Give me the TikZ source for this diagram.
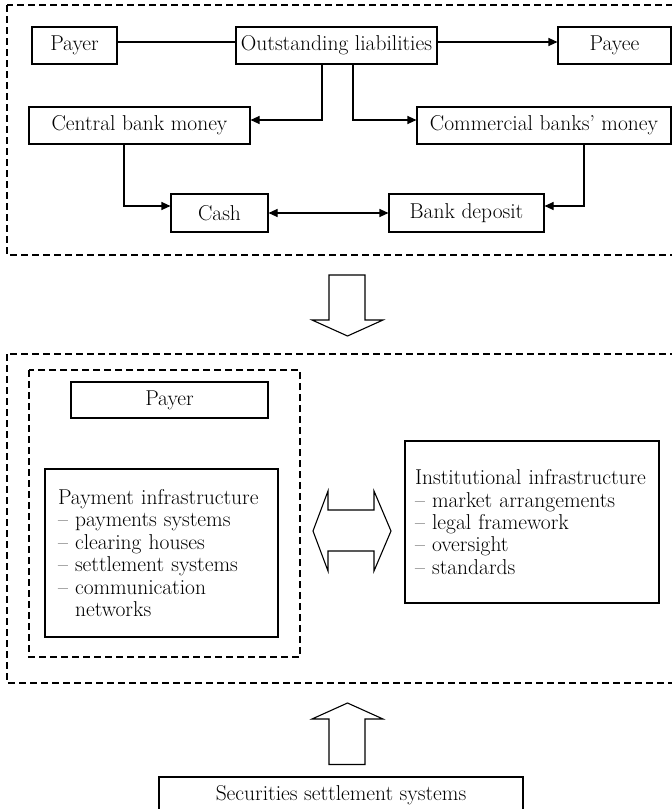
\documentclass[tikz,border=0pt]{standalone}
\usetikzlibrary{arrows.meta,calc}
\begin{document}
\begin{tikzpicture}[x=1pt,y=-1pt,
  every node/.style={font=\fontsize{21.5}{22.4}\selectfont},
  box/.style={draw, line width=1.1pt, inner sep=0pt, minimum height=37pt},
  dbox/.style={draw, line width=1.1pt, dash pattern=on 7pt off 4pt},
  con/.style={line width=1.1pt},
  arr/.style={con,-{Triangle[length=9pt,width=8pt]}},
  darr/.style={con,{Triangle[length=9pt,width=8pt]}-{Triangle[length=9pt,width=8pt]}},
  blk/.style={draw, line width=1.1pt, fill=white, line join=miter},
  listbox/.style={draw, line width=1.1pt, inner ysep=0pt, align=left}]
\clip (0,0) rectangle (672,809);
\fill[white] (0,0) rectangle (672,809);

% ---------- top panel ----------
\draw[dbox] (7,5) rectangle (672.8,255);
\node[box, minimum width=85pt]  (payer) at (74.5,45.5) {Payer};
\node[box, minimum width=201pt] (ol)    at (336.5,45.5) {Outstanding liabilities};
\node[box, minimum width=113pt] (payee) at (614.5,45.5) {Payee};
\node[box, minimum width=221pt] (cbm)   at (139.5,125.5) {Central bank money};
\node[box, minimum width=254pt] (cobm)  at (544,125.5) {Commercial banks' money};
\node[box, minimum width=97pt, minimum height=38pt]  (cash) at (219.5,213) {Cash};
\node[box, minimum width=155pt, minimum height=38pt] (bd)   at (466.5,213) {Bank deposit};

\draw[con] ([yshift=3.5pt]payer.east) -- ([yshift=3.5pt]ol.west);
\draw[arr] ([yshift=3.5pt]ol.east) -- ([yshift=3.5pt]payee.west);
\draw[arr] ([xshift=-14.5pt]ol.south) |- ([yshift=5.5pt]cbm.east);
\draw[arr] ([xshift=16.5pt]ol.south) |- ([yshift=5.5pt]cobm.west);
\draw[arr] ([xshift=-15.5pt]cbm.south) |- ([yshift=7pt]cash.west);
\draw[arr] ([xshift=40pt]cobm.south) |- ([yshift=7pt]bd.east);
\draw[darr] (cash.east) -- (bd.west);

% ---------- block arrow down ----------
\draw[blk] (329,275) -- (365,275) -- (365,320) -- (383,320) -- (347.5,336)
  -- (312,320) -- (329,320) -- cycle;

% ---------- middle panel ----------
\draw[dbox] (7,354) rectangle (672.8,683);
\draw[dbox] (29,370) rectangle (300,657);
\node[box, minimum width=197pt, minimum height=36pt] (payer2) at (169.5,400) {Payer};
\node[listbox, inner xsep=13pt, text width=207pt, minimum height=168pt] (pi) at (161.5,553)
  {Payment infrastructure\\
   -- payments systems\\
   -- clearing houses\\
   -- settlement systems\\
   -- communication\\
   \hphantom{--\ }networks};
\node[listbox, inner xsep=10pt, text width=234pt, minimum height=162pt] (ii) at (532,522)
  {Institutional infrastructure\\
   -- market arrangements\\
   -- legal framework\\
   -- oversight\\
   -- standards};

% ---------- double block arrow ----------
\draw[blk] (313,531) -- (328,491) -- (328,510) -- (374,510) -- (374,491)
  -- (391,531) -- (374,571) -- (374,551) -- (328,551) -- (328,571) -- cycle;

% ---------- block arrow up ----------
\draw[blk] (347.5,703) -- (383,719) -- (365,719) -- (365,764.5) -- (329,764.5)
  -- (329,719) -- (312,719) -- cycle;

% ---------- bottom ----------
\node[box, minimum width=364pt, minimum height=36pt] (sss) at (341,795) {Securities settlement systems};
\end{tikzpicture}
\end{document}
